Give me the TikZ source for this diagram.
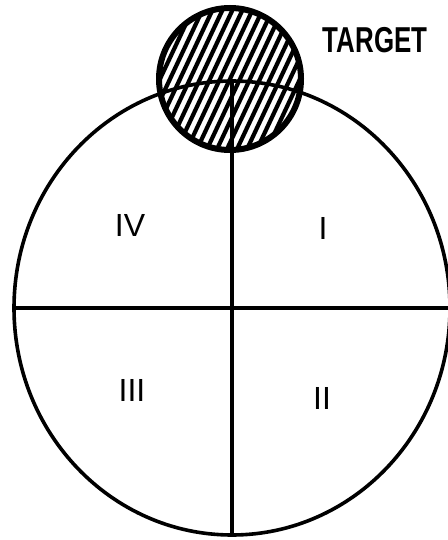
\documentclass[tikz,border=0pt]{standalone}
\usepackage{fontspec}
\setsansfont{Liberation Sans}
\usetikzlibrary{positioning}

\begin{document}
\begin{tikzpicture}[x=0.5pt,y=-0.5pt,
  quadlabel/.style={font=\sffamily\fontsize{16}{16}\selectfont},
  fieldline/.style={line width=1.8pt},
  hatch/.style={line width=2.1pt}
  ]
  \useasboundingbox (0,0) rectangle (448,540);
  % field of view, split in quadrants
  \coordinate (fc) at (232,308);
  \coordinate (ftop) at (232,81);
  \coordinate (fbot) at (232,535);
  \coordinate (fleft) at (14,308);
  \coordinate (fright) at (450,308);
  \coordinate (tc) at (230,79);
  % hatched target
  \begin{scope}
    \clip (tc) circle (71);
    \foreach \i in {-15,...,15}
      \draw[hatch] ([xshift=\i*5pt-20pt,yshift=-42.5pt]tc) -- ++(80,-170);
  \end{scope}
  \draw[fieldline] (fc) ellipse [x radius=218, y radius=227];
  \draw[fieldline] (ftop) -- (fbot);
  \draw[fieldline] (fleft) -- (fright);
  \draw[line width=3pt] (tc) circle (71);
  \node[font=\sffamily\bfseries\fontsize{18}{18}\selectfont] (target) at (375,40) {\scalebox{0.72}[1]{TARGET}};
  \node[quadlabel] (qIV) at (130,225) {IV};
  \node[quadlabel] (qI) at (323,228) {I};
  \node[quadlabel] (qIII) at (132,390) {III};
  \node[quadlabel] (qII) at (322,398) {II};
\end{tikzpicture}
\end{document}
